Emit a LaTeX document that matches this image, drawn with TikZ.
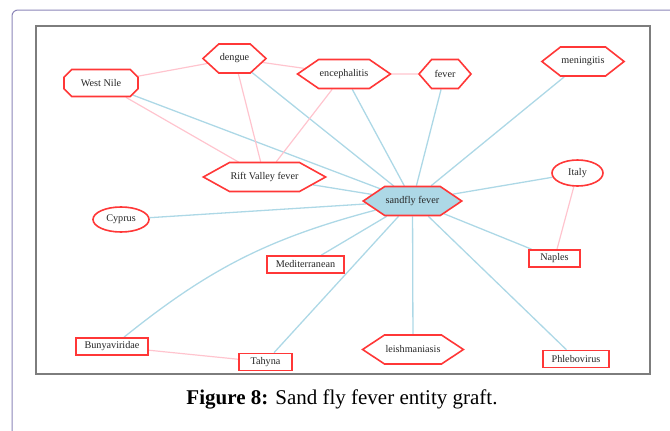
\documentclass[tikz,border=0pt]{standalone}
\usepackage{fontspec}
\setmainfont{Liberation Serif}
\usepackage{xcolor}
\usetikzlibrary{shapes.geometric,shapes.symbols,shapes.misc,backgrounds}
\definecolor{nodered}{RGB}{255,55,55}
\definecolor{seedblue}{RGB}{173,216,230}
\definecolor{linkpink}{RGB}{255,196,206}
\definecolor{cardline}{RGB}{140,134,184}
\definecolor{framegray}{RGB}{125,125,125}
\tikzset{
  ent/.style={draw=nodered,line width=1.6pt,fill=white,text=black!85,
    font=\fontsize{10.2}{11}\selectfont,inner sep=1pt},
  hexa/.style={ent,signal,signal to=east and west,signal pointer angle=#1,minimum height=29pt},
  octa/.style={ent,chamfered rectangle,chamfered rectangle xsep=11pt,minimum height=27pt},
  oval/.style={ent,ellipse},
  entbox/.style={ent,rectangle,minimum height=17pt},
  toseed/.style={seedblue,line width=1.3pt},
  tolink/.style={linkpink,line width=1.2pt}
}

\begin{document}
\begin{tikzpicture}[x=1pt,y=-1pt]
  \useasboundingbox (0,0) rectangle (670,431);
  % card and frame
  \draw[cardline,line width=1pt,rounded corners=6pt] (12,431) -- (12,10) -- (670,10);
  \draw[framegray,line width=1.5pt] (36,26) rectangle (650,374);

  % entities
  \node[hexa=68,minimum width=89pt,fill=seedblue] (sandfly) at (412.5,201) {sandfly fever};
  \node[octa,minimum width=74pt] (westnile) at (101,83) {West Nile};
  \node[hexa=85,minimum width=63pt] (dengue) at (234.5,58.5) {dengue};
  \node[hexa=69,minimum width=82pt] (enceph) at (344,74) {encephalitis};
  \node[hexa=98,minimum width=52pt] (fever) at (445,74) {fever};
  \node[hexa=76,minimum width=74pt] (mening) at (583,61.5) {meningitis};
  \node[hexa=58,minimum width=107pt] (rift) at (264.5,177) {Rift Valley fever};
  \node[oval,minimum width=51pt,minimum height=26pt] (italy) at (577.5,173) {Italy};
  \node[oval,minimum width=56pt,minimum height=25pt] (cyprus) at (121,219.5) {Cyprus};
  \node[entbox,minimum width=77pt] (medit) at (305.5,264.5) {Mediterranean};
  \node[entbox,minimum width=51pt] (naples) at (554.5,258.5) {Naples};
  \node[entbox,minimum width=72pt] (bunya) at (112,346.5) {Bunyaviridae};
  \node[entbox,minimum width=53pt] (tahyna) at (265.5,362) {Tahyna};
  \node[hexa=67,minimum width=88pt] (leish) at (413,349.5) {leishmaniasis};
  \node[entbox,minimum width=66pt] (phlebo) at (576,359) {Phlebovirus};

  % links
  \begin{scope}[on background layer]
    \foreach \n in {westnile,dengue,enceph,fever,mening,italy,rift,cyprus,medit,naples,tahyna,leish,phlebo}
      \draw[toseed] (sandfly) -- (\n);
    \draw[toseed] (sandfly) to[bend right=12] (bunya);
    \draw[tolink] (westnile) -- (dengue);
    \draw[tolink] (dengue) -- (enceph);
    \draw[tolink] (enceph) -- (fever);
    \draw[tolink] (westnile) -- (rift);
    \draw[tolink] (dengue) -- (rift);
    \draw[tolink] (enceph) -- (rift);
    \draw[tolink] (italy) -- (naples);
    \draw[tolink] (bunya) -- (tahyna);
  \end{scope}

  \node[font=\fontsize{21}{24}\selectfont] (caption) at (342,399) {\textbf{Figure 8:} Sand fly fever entity graft.};
\end{tikzpicture}
\end{document}
